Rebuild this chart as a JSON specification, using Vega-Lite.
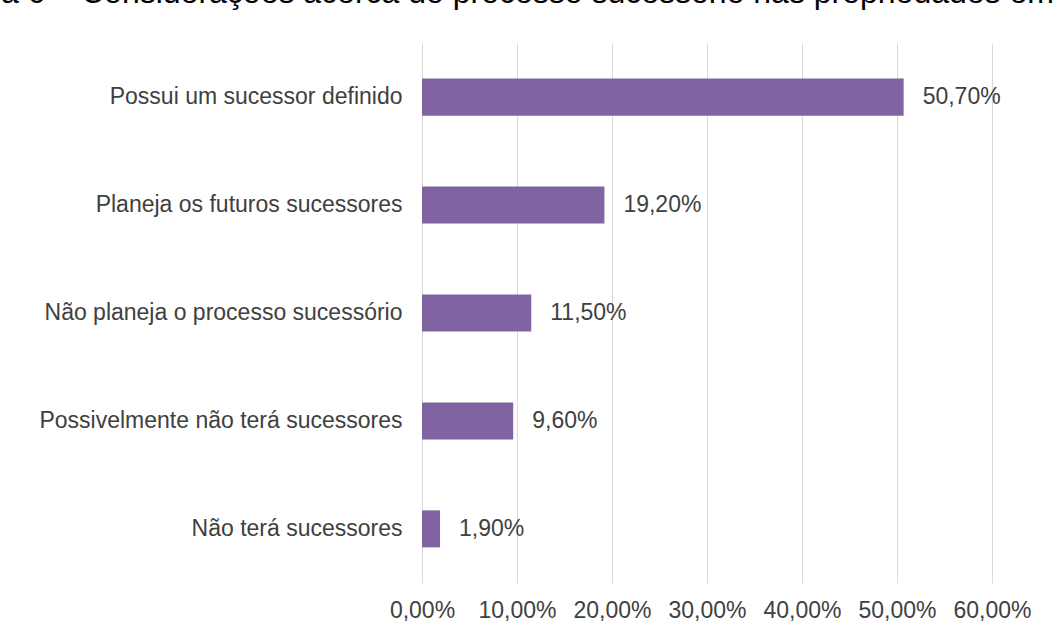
{
  "$schema": "https://vega.github.io/schema/vega-lite/v6.json",
  "width": 570,
  "height": 540,
  "autosize": "none",
  "padding": {"left": 422, "top": 43, "right": 66, "bottom": 55},
  "background": "white",
  "config": {
    "locale": {"number": {"decimal": ",", "thousands": ".", "grouping": [3], "currency": ["", " €"]}},
    "font": "Liberation Sans",
    "view": {"stroke": null}
  },
  "title": {
    "text": "Figura 6 – Considerações acerca do processo sucessório nas propriedades em estudo",
    "frame": "group",
    "anchor": "start",
    "baseline": "alphabetic",
    "offset": 0,
    "dx": -494,
    "dy": -8,
    "fontSize": 32,
    "fontWeight": "normal",
    "color": "#000000",
    "font": "Liberation Sans"
  },
  "data": {
    "values": [
      {"categoria": "Possui um sucessor definido", "valor": 0.507},
      {"categoria": "Planeja os futuros sucessores", "valor": 0.192},
      {"categoria": "Não planeja  o processo sucessório", "valor": 0.115},
      {"categoria": "Possivelmente não terá sucessores", "valor": 0.096},
      {"categoria": "Não terá sucessores", "valor": 0.019}
    ]
  },
  "encoding": {
    "y": {
      "field": "categoria",
      "type": "nominal",
      "sort": null,
      "scale": {"paddingInner": 0.657, "paddingOuter": 0.33},
      "axis": {
        "title": null,
        "ticks": false,
        "domain": false,
        "labelFontSize": 23,
        "labelColor": "#404040",
        "labelPadding": 20,
        "labelLimit": 600
      }
    },
    "x": {
      "field": "valor",
      "type": "quantitative",
      "scale": {"domain": [0, 0.6], "nice": false},
      "axis": {
        "title": null,
        "format": ".2%",
        "values": [0, 0.1, 0.2, 0.3, 0.4, 0.5, 0.6],
        "ticks": false,
        "domain": false,
        "grid": true,
        "gridColor": "#d9d9d9",
        "gridWidth": 1,
        "labelFontSize": 23,
        "labelColor": "#404040",
        "labelPadding": 16,
        "labelFlush": false,
        "labelOverlap": false
      }
    }
  },
  "layer": [
    {"mark": {"type": "bar", "color": "#8064A2"}},
    {
      "mark": {"type": "text", "align": "left", "dx": 19, "fontSize": 23, "color": "#404040", "baseline": "middle"},
      "encoding": {"text": {"field": "valor", "type": "quantitative", "format": ".2%"}}
    }
  ]
}
